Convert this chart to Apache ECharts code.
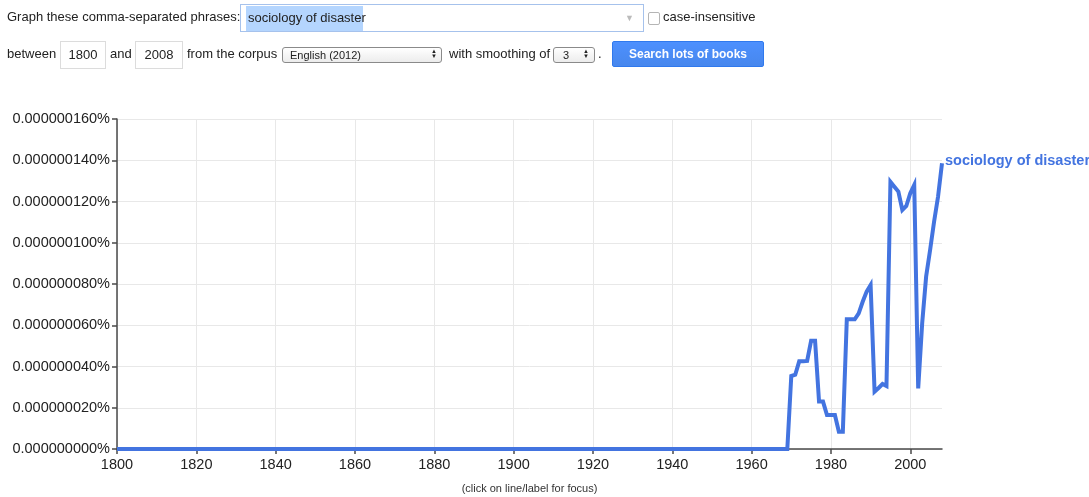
<!DOCTYPE html>
<html>
<head>
<meta charset="utf-8">
<script src="https://cdn.jsdelivr.net/npm/echarts@6/dist/echarts.min.js"></script>
<style>
  html, body { margin: 0; padding: 0; background: #fff; }
  body { width: 1089px; height: 497px; position: relative; overflow: hidden;
         font-family: "Liberation Sans", Arial, Helvetica, sans-serif; font-size: 13px; color: #222; }
  #chart { position: absolute; left: 0; top: 0; width: 1089px; height: 497px; }
  .t { position: absolute; height: 16px; line-height: 16px; white-space: nowrap; z-index: 2; }
  .box { position: absolute; box-sizing: border-box; background: #fff; z-index: 2; }
  .sel { position: absolute; box-sizing: border-box; border: 1px solid #8a8a8a; border-radius: 3px;
         background: linear-gradient(#ffffff, #ececec); font-size: 11px; line-height: 14px; z-index: 2; }
</style>
</head>
<body>
<div id="chart"></div>

<div class="t" style="left:7px; top:9px;">Graph these comma-separated phrases:</div>
<div class="box" style="left:240px; top:4px; width:404px; height:28px; border:1px solid #a6c2ec;"></div>
<div class="box" style="left:246px; top:6px; width:117px; height:25px; background:#b4d5fe;"></div>
<div class="t" style="left:248px; top:10px;">sociology of disaster</div>
<div class="t" style="left:625px; top:10px; font-size:9px; color:#bbb;">&#9660;</div>
<div class="box" style="left:648px; top:12px; width:12px; height:13px; border:1px solid #b5b5b5; border-radius:2px;"></div>
<div class="t" style="left:663px; top:9px;">case-insensitive</div>

<div class="t" style="left:7px; top:46px;">between</div>
<div class="box" style="left:60px; top:41px; width:46px; height:28px; border:1px solid #dcdcdc;"></div>
<div class="t" style="left:60px; width:46px; text-align:center; top:47px;">1800</div>
<div class="t" style="left:110px; top:46px;">and</div>
<div class="box" style="left:135px; top:41px; width:48px; height:28px; border:1px solid #dcdcdc;"></div>
<div class="t" style="left:135px; width:48px; text-align:center; top:47px;">2008</div>
<div class="t" style="left:187px; top:46px;">from the corpus</div>
<div class="sel" style="left:282px; top:47px; width:160px; height:16px;">
  <span style="position:absolute; left:7px; top:0;">English (2012)</span>
</div>
<div class="t" style="left:431px; top:49px; font-size:6px; line-height:5px; height:10px; color:#222;">&#9650;<br>&#9660;</div>
<div class="t" style="left:449px; top:46px;">with smoothing of</div>
<div class="sel" style="left:553px; top:47px; width:42px; height:16px;">
  <span style="position:absolute; left:9px; top:0;">3</span>
</div>
<div class="t" style="left:583px; top:49px; font-size:6px; line-height:5px; height:10px; color:#222;">&#9650;<br>&#9660;</div>
<div class="t" style="left:598px; top:46px;">.</div>
<div class="box" style="left:612px; top:41px; width:152px; height:26px; background:linear-gradient(#4d90fe,#4787ed); border:1px solid #3079ed; border-radius:2px;"></div>
<div class="t" style="left:612px; width:152px; text-align:center; top:46px; color:#fff; font-weight:bold; font-size:12px;">Search lots of books</div>

<div class="t" style="left:0; width:1059px; text-align:center; top:480px; font-size:11px; color:#333;">(click on line/label for focus)</div>

<script>
// Years with data points (1800-1969 all zero)
var years = [1800, 1969, 1970, 1971, 1972, 1973, 1974, 1975, 1976, 1977, 1978, 1979,
             1980, 1981, 1982, 1983, 1984, 1985, 1986, 1987, 1988, 1989, 1990, 1991,
             1992, 1993, 1994, 1995, 1996, 1997, 1998, 1999, 2000, 2001, 2002, 2003,
             2004, 2005, 2006, 2007, 2008];
// Values in units of 0.000000001 %
var values = [0, 0, 35.4, 36, 42.5, 42.5, 42.7, 52.5, 52.5, 23, 23, 16.5,
              16.5, 16.5, 8.4, 8.4, 62.9, 62.9, 62.9, 65.8, 71.4, 76.3, 79.5, 27.8,
              29.6, 31.5, 30.5, 129.6, 127.2, 124.8, 115.9, 117.8, 124, 128, 29.4, 60.9,
              83.6, 96.5, 110.2, 122.3, 138.5];
var seriesName = 'sociology of disaster';
var xTicks = [1800, 1820, 1840, 1860, 1880, 1900, 1920, 1940, 1960, 1980, 2000];
var yTicks = [0, 20, 40, 60, 80, 100, 120, 140, 160];

var FONT = '"Liberation Sans", Arial, Helvetica, sans-serif';
var BLUE = '#4374e0';

var chart = echarts.init(document.getElementById('chart'), null, { renderer: 'canvas' });
chart.setOption({
  animation: false,
  grid: { left: 117, right: 147, top: 119, bottom: 48 },
  xAxis: {
    type: 'value', min: 1800, max: 2008, interval: 20,
    axisLine: { show: true, lineStyle: { color: '#4a4a4a', width: 1.5 } },
    axisTick: { show: true, length: 5, lineStyle: { color: '#4a4a4a', width: 1.5 }, customValues: xTicks },
    axisLabel: { color: '#222', fontSize: 14.5, fontFamily: FONT, margin: 8, customValues: xTicks,
                 formatter: function (v) { return String(v); } },
    splitLine: { show: true, lineStyle: { color: '#e8e8e8', width: 1 } }
  },
  yAxis: {
    type: 'value', min: 0, max: 160, interval: 20,
    axisLine: { show: true, lineStyle: { color: '#4a4a4a', width: 1.5 } },
    axisTick: { show: true, length: 5, lineStyle: { color: '#4a4a4a', width: 1.5 }, customValues: yTicks },
    axisLabel: { color: '#222', fontSize: 14.5, fontFamily: FONT, margin: 7, customValues: yTicks,
                 formatter: function (v) { return (v / 1e9).toFixed(9) + '%'; } },
    splitLine: { show: true, lineStyle: { color: '#e8e8e8', width: 1 } }
  },
  series: [{
    name: seriesName,
    type: 'line',
    data: years.map(function (y, i) { return [y, values[i]]; }),
    showSymbol: false,
    symbol: 'none',
    clip: false,
    z: 5,
    lineStyle: { color: BLUE, width: 4, join: 'miter' },
    endLabel: {
      show: true, formatter: seriesName, color: BLUE, fontWeight: 'bold',
      fontSize: 14.5, fontFamily: FONT, distance: 3, offset: [0, -2],
      overflow: 'none', width: 200
    }
  }]
});
</script>
</body>
</html>
